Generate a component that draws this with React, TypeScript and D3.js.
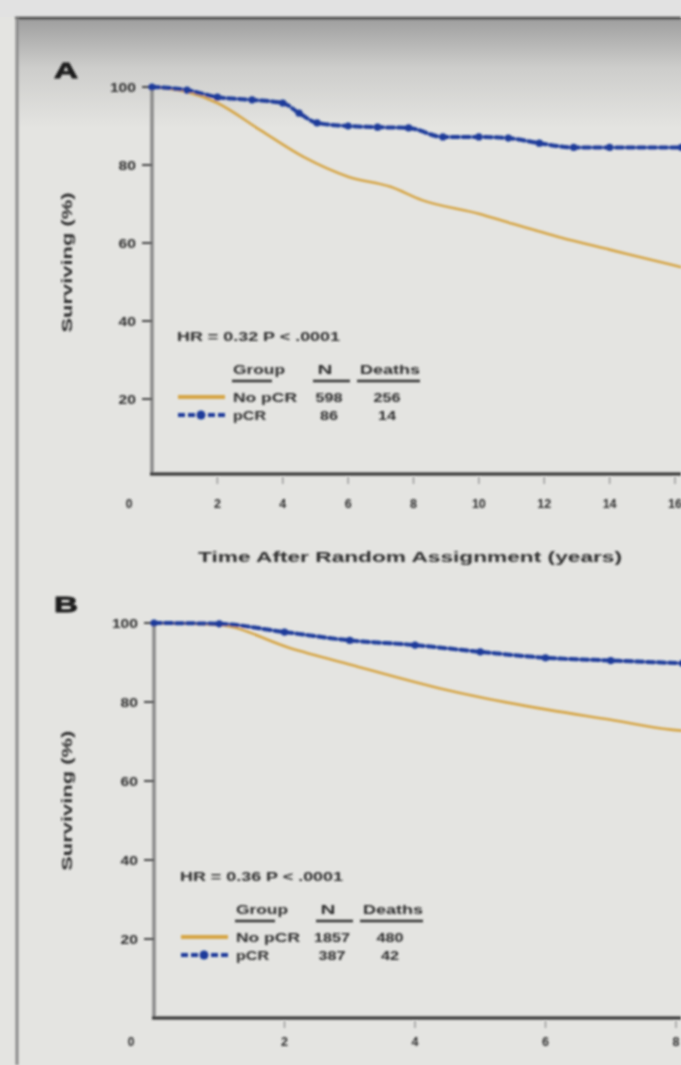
import React from "react";
import * as d3 from "d3";

// Panel A (16-year follow-up)
const A_TIME_NOPCR = [0, 1.07, 2, 3.3, 4.65, 6, 7.3, 8.26, 10, 11, 12.5, 14, 15.9, 16.2];
const A_SURV_NOPCR = [100, 98.7, 95.9, 89, 82, 77, 74.4, 71, 67.5, 65, 61.4, 58.3, 54.4, 53.8];
const A_TIME_PCR = [0, 1.07, 2, 3.06, 4, 4.5, 5.05, 6, 6.9, 7.85, 8.9, 10, 10.9, 11.85, 12.9, 14, 16.2];
const A_SURV_PCR = [100, 99.2, 97.4, 96.7, 95.9, 93.3, 90.8, 90, 89.7, 89.5, 87.2, 87.2, 86.9, 85.6, 84.5, 84.5, 84.5];
const A_XTICKS = [2, 4, 6, 8, 10, 12, 14, 16];

// Panel B (8-year follow-up)
const B_TIME_NOPCR = [0, 1, 2.08, 3, 4.37, 5, 6.05, 7, 7.92, 8.1];
const B_SURV_NOPCR = [100, 99.5, 93.7, 89.5, 83.5, 81.2, 78, 75.5, 73, 72.7];
const B_TIME_PCR = [0, 1, 2, 3, 4, 5, 6, 7, 8.1];
const B_SURV_PCR = [100, 99.8, 97.7, 95.6, 94.4, 92.7, 91.2, 90.5, 89.8];
const B_XTICKS = [2, 4, 6, 8];

const Y_TICKS = [20, 40, 60, 80, 100];
const GROUPS = ["No pCR", "pCR"];
const A_N = ["598", "86"];
const A_DEATHS = ["256", "14"];
const B_N = ["1857", "387"];
const B_DEATHS = ["480", "42"];
const A_STATS = "HR = 0.32   P < .0001";
const B_STATS = "HR = 0.36   P < .0001";
const X_TITLE = "Time After Random Assignment (years)";
const Y_TITLE = "Surviving (%)";

const ORANGE = "#d6a545";
const BLUE = "#1e3a9a";
const TXT = "#2e2e2e";
const FONT = "'Liberation Sans', Arial, sans-serif";

type PanelProps = {
  letter: string;
  letterY: number;
  tN: number[]; sN: number[]; tP: number[]; sP: number[];
  xMax: number; x0: number; x1: number; y0: number; y100: number; axisY: number;
  xticks: number[]; tickLabelY: number;
  stats: string; legendX: number; legendY: number;
  nVals: string[]; dVals: string[]; titleY: number; showXTitle: boolean;
};

function Panel(p: PanelProps) {
  const x = d3.scaleLinear().domain([0, p.xMax]).range([p.x0, p.x1]);
  const y = d3.scaleLinear().domain([0, 100]).range([p.y0, p.y100]);
  const line = d3.line<[number, number]>().x((d) => x(d[0])).y((d) => y(d[1])).curve(d3.curveMonotoneX);
  const nopcr = p.tN.map((t, i) => [t, p.sN[i]] as [number, number]);
  const pcr = p.tP.map((t, i) => [t, p.sP[i]] as [number, number]);
  const ax = x(0);
  const lx = p.legendX;
  const ly = p.legendY;
  const t = (w: number) => ({ textLength: w, lengthAdjust: "spacingAndGlyphs" as const });
  return (
    <g>
      <text x={54} y={p.letterY} fontFamily={FONT} fontWeight="bold" fontSize={22} fill="#1e1e1e" stroke="#1e1e1e" strokeWidth={0.8} {...t(24)}>{p.letter}</text>
      {/* y title */}
      <text transform={`translate(72,${y(55)}) rotate(-90)`} textAnchor="middle" fontFamily={FONT} fontWeight="bold" fontSize={14} fill={TXT} {...t(140)}>{Y_TITLE}</text>
      {/* axes */}
      <line x1={ax} x2={ax} y1={y(100) - 2} y2={p.axisY} stroke="#8a8a8a" strokeWidth={3.5} />
      <line x1={ax - 2} x2={681} y1={p.axisY} y2={p.axisY} stroke="#2e2e2e" strokeWidth={3} />
      {Y_TICKS.map((v) => (
        <g key={v}>
          <line x1={ax - 10} x2={ax} y1={y(v)} y2={y(v)} stroke="#444" strokeWidth={2} />
          <text x={ax - 16} y={y(v) + 4.5} textAnchor="end" fontFamily={FONT} fontWeight="bold" fontSize={12} fill={TXT} {...t(String(v).length * 8.7)}>{v}</text>
        </g>
      ))}
      {p.xticks.map((v) => (
        <g key={v}>
          <line x1={x(v)} x2={x(v)} y1={p.axisY + 3} y2={p.axisY + 10} stroke="#9a9a9a" strokeWidth={1.5} />
          <text x={x(v)} y={p.tickLabelY} textAnchor="middle" fontFamily={FONT} fontWeight="bold" fontSize={12} fill={TXT} {...t(String(v).length * 7)}>{v}</text>
        </g>
      ))}
      <text x={ax - 23} y={p.tickLabelY} textAnchor="middle" fontFamily={FONT} fontWeight="bold" fontSize={12} fill={TXT}>0</text>
      {p.showXTitle && (
        <text x={410} y={p.titleY} textAnchor="middle" fontFamily={FONT} fontWeight="bold" fontSize={14} fill={TXT} {...t(424)}>{X_TITLE}</text>
      )}
      {/* curves */}
      <path d={line(nopcr) || ""} fill="none" stroke={ORANGE} strokeWidth={2.6} />
      <path d={line(pcr) || ""} fill="none" stroke={BLUE} strokeWidth={4} strokeDasharray="7 4" strokeLinecap="round" />
      {pcr.map((d, i) => (
        <circle key={i} cx={x(d[0])} cy={y(d[1])} r={3.6} fill={BLUE} />
      ))}
      {/* legend */}
      <text x={lx} y={ly} fontFamily={FONT} fontWeight="bold" fontSize={12} fill={TXT} {...t(163)}>{p.stats}</text>
      <text x={lx + 56} y={ly + 33} fontFamily={FONT} fontWeight="bold" fontSize={12} fill={TXT} {...t(52)}>Group</text>
      <text x={lx + 148} y={ly + 33} textAnchor="middle" fontFamily={FONT} fontWeight="bold" fontSize={12} fill={TXT} {...t(15)}>N</text>
      <text x={lx + 183} y={ly + 33} fontFamily={FONT} fontWeight="bold" fontSize={12} fill={TXT} {...t(60)}>Deaths</text>
      <line x1={lx + 55} x2={lx + 95} y1={ly + 40} y2={ly + 40} stroke="#333" strokeWidth={2.5} />
      <line x1={lx + 136} x2={lx + 173} y1={ly + 40} y2={ly + 40} stroke="#333" strokeWidth={2.5} />
      <line x1={lx + 180} x2={lx + 243} y1={ly + 40} y2={ly + 40} stroke="#333" strokeWidth={2.5} />
      {GROUPS.map((g, i) => {
        const ry = ly + 56 + i * 18;
        return (
          <g key={g}>
            {i === 0 ? (
              <line x1={lx + 1} x2={lx + 48} y1={ry} y2={ry} stroke={ORANGE} strokeWidth={4} />
            ) : (
              <g>
                <line x1={lx + 1} x2={lx + 48} y1={ry} y2={ry} stroke={BLUE} strokeWidth={4} strokeDasharray="7 3" />
                <circle cx={lx + 24} cy={ry} r={4.5} fill={BLUE} />
              </g>
            )}
            <text x={lx + 56} y={ry + 4.5} fontFamily={FONT} fontWeight="bold" fontSize={12} fill={TXT} {...t(i === 0 ? 64 : 33)}>{g}</text>
            <text x={lx + 152} y={ry + 4.5} textAnchor="middle" fontFamily={FONT} fontWeight="bold" fontSize={12} fill={TXT} {...t(p.nVals[i].length * 9)}>{p.nVals[i]}</text>
            <text x={lx + 210} y={ry + 4.5} textAnchor="middle" fontFamily={FONT} fontWeight="bold" fontSize={12} fill={TXT} {...t(p.dVals[i].length * 9)}>{p.dVals[i]}</text>
          </g>
        );
      })}
    </g>
  );
}

export default function App() {
  return (
    <svg width={681} height={1065} style={{ position: "absolute", left: 0, top: 0, display: "block" }}>
      <defs>
        <linearGradient id="topShade" x1="0" y1="0" x2="0" y2="1">
          <stop offset="0" stopColor="#9e9e9e" />
          <stop offset="0.45" stopColor="#cdcdcb" />
          <stop offset="1" stopColor="#e4e4e1" />
        </linearGradient>
        <filter id="soft" x="-5%" y="-5%" width="110%" height="110%">
          <feGaussianBlur stdDeviation="0.8" />
        </filter>
      </defs>
      <rect x={0} y={0} width={681} height={1065} fill="#e4e4e1" />
      <rect x={0} y={0} width={681} height={17} fill="#e2e2e2" />
      <rect x={17} y={18} width={664} height={110} fill="url(#topShade)" />
      <g filter="url(#soft)">
        <line x1={15} x2={681} y1={18} y2={18} stroke="#4a4a4a" strokeWidth={2.5} />
        <line x1={17} x2={17} y1={18} y2={1065} stroke="#8c8c8c" strokeWidth={3} />
        <Panel letter="A" letterY={78} tN={A_TIME_NOPCR} sN={A_SURV_NOPCR} tP={A_TIME_PCR} sP={A_SURV_PCR}
          xMax={16} x0={152} x1={675} y0={477} y100={87} axisY={474} xticks={A_XTICKS} tickLabelY={508}
          stats={A_STATS} legendX={177} legendY={341} nVals={A_N} dVals={A_DEATHS} titleY={562} showXTitle={true} />
        <Panel letter="B" letterY={612} tN={B_TIME_NOPCR} sN={B_SURV_NOPCR} tP={B_TIME_PCR} sP={B_SURV_PCR}
          xMax={8} x0={154} x1={676} y0={1018} y100={623} axisY={1018} xticks={B_XTICKS} tickLabelY={1046}
          stats={B_STATS} legendX={180} legendY={881} nVals={B_N} dVals={B_DEATHS} titleY={0} showXTitle={false} />
      </g>
    </svg>
  );
}
